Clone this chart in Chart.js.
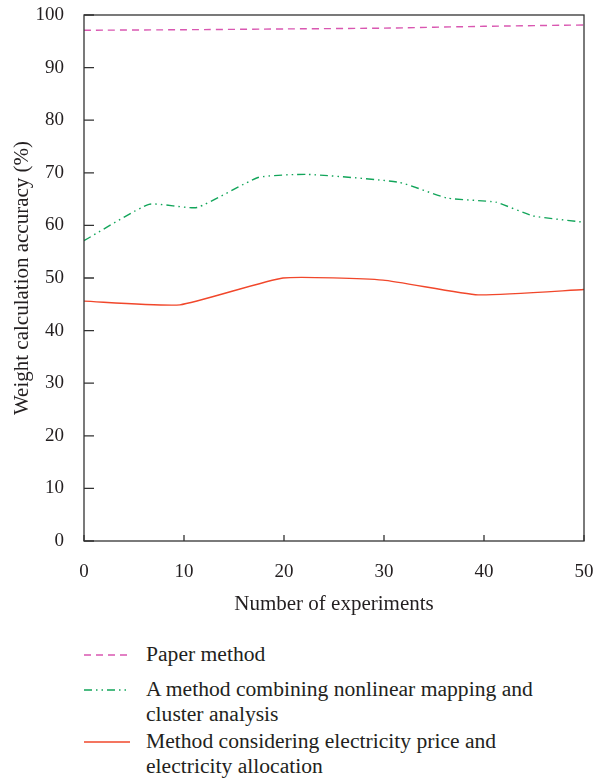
<!DOCTYPE html>
<html>
<head>
    <meta charset="utf-8">
    <title>Weight calculation accuracy</title>
    <script src="https://cdn.jsdelivr.net/npm/chart.js@4.4.1/dist/chart.umd.min.js"></script>
    <style>
        body { margin: 0; background: #fff; font-family: "Liberation Serif", serif; color: #231f20; }
        #wrap { position: relative; width: 597px; height: 784px; }
        #chart-box { position: absolute; left: 0; top: 0; width: 597px; height: 625px; }
        .leg-row { position: absolute; left: 84px; font-size: 21.6px; line-height: 25px; }
        .leg-row svg { position: absolute; left: 0; top: 6px; }
        .leg-row .txt { position: absolute; left: 62px; white-space: nowrap; }
    </style>
</head>
<body>
<div id="wrap">
    <div id="chart-box"><canvas id="accuracy"></canvas></div>
    <div id="legend"></div>
</div>

<script>
    // ---------- data ----------
    var paperX = [0, 10, 20, 30, 40, 50];
    var paperY = [97.1, 97.2, 97.35, 97.5, 97.85, 98.1];

    var clusterX = [0, 6.5, 11.3, 17.4, 22.3, 31.5, 36.3, 41.2, 44.9, 50];
    var clusterY = [57.1, 64.0, 63.4, 69.1, 69.7, 68.2, 65.2, 64.4, 61.8, 60.6];

    var priceX = [0, 9.6, 19.9, 29.9, 39.4, 50];
    var priceY = [45.6, 44.9, 50.0, 49.6, 46.8, 47.8];

    var labels = [
        ["Paper method"],
        ["A method combining nonlinear mapping and", "cluster analysis"],
        ["Method considering electricity price and", "electricity allocation"]
    ];
    var colors = ["#d957b1", "#12a55a", "#f1472b"];
    var dashes = [[7, 5], [8, 4, 1.5, 4, 1.5, 4], []];

    var xTicks = [0, 10, 20, 30, 40, 50];
    var yTicks = [0, 10, 20, 30, 40, 50, 60, 70, 80, 90, 100];

    function pts(xs, ys) {
        return xs.map(function (x, i) { return { x: x, y: ys[i] }; });
    }

    var series = [pts(paperX, paperY), pts(clusterX, clusterY), pts(priceX, priceY)];

    // frame round the plot and inward tick marks
    var frame = {
        id: 'frame',
        afterDatasetsDraw: function (chart) {
            var ctx = chart.ctx, a = chart.chartArea;
            var xs = chart.scales.x, ys = chart.scales.y;
            ctx.save();
            ctx.strokeStyle = '#333';
            ctx.lineWidth = 1.3;
            ctx.strokeRect(a.left, a.top, a.right - a.left, a.bottom - a.top);
            ctx.beginPath();
            ys.ticks.forEach(function (t) {
                var py = ys.getPixelForValue(t.value);
                ctx.moveTo(a.left, py);
                ctx.lineTo(a.left + 10, py);
            });
            xs.ticks.forEach(function (t) {
                var px = xs.getPixelForValue(t.value);
                ctx.moveTo(px, a.bottom);
                ctx.lineTo(px, a.bottom - 6);
            });
            ctx.stroke();
            ctx.restore();
        }
    };

    new Chart(document.getElementById('accuracy'), {
        type: 'line',
        data: {
            datasets: series.map(function (d, i) {
                return {
                    label: labels[i].join(' '),
                    data: d,
                    borderColor: colors[i],
                    borderWidth: 1.4,
                    borderDash: dashes[i],
                    pointRadius: 0,
                    tension: 0.15,
                    fill: false
                };
            })
        },
        options: {
            responsive: true,
            maintainAspectRatio: false,
            animation: false,
            layout: { padding: { left: 10, top: 15, right: 13, bottom: 8 } },
            plugins: { legend: { display: false }, tooltip: { enabled: false } },
            scales: {
                x: {
                    type: 'linear',
                    min: 0, max: 50,
                    afterBuildTicks: function (s) { s.ticks = xTicks.map(function (v) { return { value: v }; }); },
                    afterFit: function (s) { s.height = 76; s.paddingLeft = 0; s.paddingRight = 0; },
                    grid: { display: false },
                    border: { display: false },
                    ticks: { color: '#231f20', padding: 12, maxRotation: 0, font: { family: 'Liberation Serif', size: 19 } },
                    title: {
                        display: true, text: 'Number of experiments', color: '#231f20',
                        padding: { top: 0, bottom: 0 },
                        font: { family: 'Liberation Serif', size: 21 }
                    }
                },
                y: {
                    min: 0, max: 100,
                    afterBuildTicks: function (s) { s.ticks = yTicks.map(function (v) { return { value: v }; }); },
                    afterFit: function (s) { s.width = 74; s.paddingTop = 0; s.paddingBottom = 0; },
                    grid: { display: false },
                    border: { display: false },
                    ticks: { color: '#231f20', padding: 12, font: { family: 'Liberation Serif', size: 19 } },
                    title: {
                        display: true, text: 'Weight calculation accuracy (%)', color: '#231f20',
                        padding: { top: 0, bottom: 0 },
                        font: { family: 'Liberation Serif', size: 21 }
                    }
                }
            }
        },
        plugins: [frame]
    });

    // legend under the chart
    var rowTops = [642, 677, 729];
    var legend = document.getElementById('legend');
    labels.forEach(function (lines, i) {
        var row = document.createElement('div');
        row.className = 'leg-row';
        row.style.top = rowTops[i] + 'px';
        row.innerHTML =
            '<svg width="46" height="14"><line x1="0" y1="7" x2="46" y2="7" stroke="' + colors[i] +
            '" stroke-width="1.4" stroke-dasharray="' + (dashes[i].length ? dashes[i].join(' ') : 'none') + '"/></svg>' +
            '<div class="txt">' + lines.join('<br>') + '</div>';
        legend.appendChild(row);
    });
</script>
</body>
</html>
